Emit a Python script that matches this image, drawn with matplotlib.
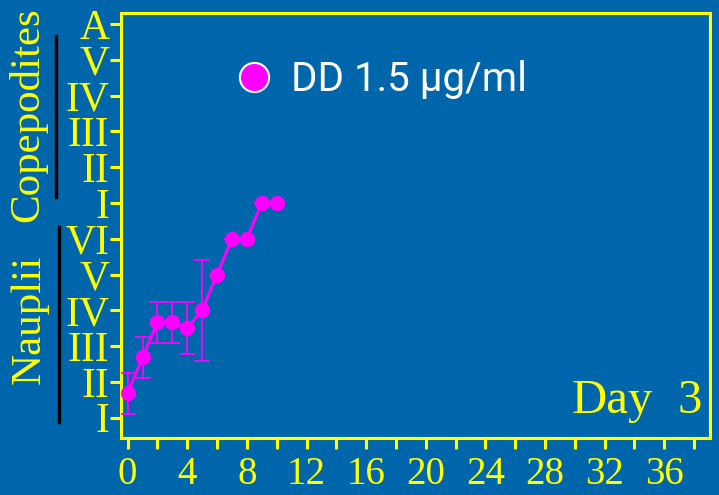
import matplotlib
matplotlib.use("Agg")
import matplotlib.pyplot as plt
from matplotlib.lines import Line2D

# data
days = [0, 1, 2, 3, 4, 5, 6, 7, 8, 9, 10]
stage = [1.68, 2.68, 3.66, 3.66, 3.51, 4.0, 5.0, 6.0, 6.0, 7.0, 7.0]
stage_err = [0.58, 0.56, 0.57, 0.57, 0.72, 1.41, 0, 0, 0, 0, 0]
stage_ticks = list(range(1, 13))
stage_labels = ['I', 'II', 'III', 'IV', 'V', 'VI', 'I', 'II', 'III', 'IV', 'V', 'A']
day_ticks = list(range(0, 39, 2))
day_labels = [str(d) if d % 4 == 0 else '' for d in day_ticks]
legend_label = 'DD 1.5 µg/ml'

bg = '#0066AB'
yellow = '#FFFF00'
magenta = '#FF00FF'

fig = plt.figure(figsize=(7.19, 4.95), dpi=100, facecolor=bg)
ax = fig.add_axes([0.1676, 0.1152, 0.8199, 0.8585], facecolor=bg)

ax.errorbar(days, stage, yerr=stage_err, color=magenta, lw=2.2, marker='o',
            ms=10, mfc=magenta, mec=magenta, ecolor=magenta, elinewidth=1.3,
            capsize=5.5, capthick=1.3, zorder=3)

ax.set_xlim(-0.48, 39.07)
ax.set_ylim(0.43, 12.31)

ax.set_xticks(day_ticks)
ax.set_xticklabels(day_labels)
ax.set_yticks(stage_ticks)
ax.set_yticklabels(stage_labels)

for s in ax.spines.values():
    s.set_color(yellow)
    s.set_linewidth(2.2)

ax.tick_params(axis='both', colors=yellow, width=2.2, length=8, direction='out')
ax.tick_params(axis='x', pad=5)
ax.tick_params(axis='y', pad=0)
for lab in ax.get_xticklabels():
    lab.set_family('Liberation Serif')
    lab.set_fontsize(28)
for lab in ax.get_yticklabels():
    lab.set_family('Liberation Serif')
    lab.set_fontsize(30)

# legend
h = Line2D([], [], marker='o', ls='none', ms=21, mfc=magenta, mec='white', mew=1.5)
leg = ax.legend(handles=[h], labels=[legend_label], loc='center left',
                bbox_to_anchor=(0.124, 0.843), frameon=False, handletextpad=0.33,
                handlelength=1.2, prop={'family': 'Roboto', 'size': 29})
for t in leg.get_texts():
    t.set_color('white')

# "Day 3" label, written as two words to keep the wide gap
ax.text((572 - 120.5) / 589.5, 0.059, 'Day', transform=ax.transAxes, ha='left',
        va='baseline', color=yellow, fontsize=35, family='Liberation Serif')
ax.text((702 - 120.5) / 589.5, 0.059, '3', transform=ax.transAxes, ha='right',
        va='baseline', color=yellow, fontsize=35, family='Liberation Serif')

# stage group labels at the left
fig.text(28 / 719, 1 - 115 / 495, 'Copepodites', rotation=90, ha='center', va='center',
         color=yellow, fontsize=31, family='Liberation Serif')
fig.text(30 / 719, 1 - 319 / 495, 'Nauplii', rotation=90, ha='center', va='center',
         color=yellow, fontsize=31, family='Liberation Serif')
fig.add_artist(Line2D([55.7 / 719, 55.7 / 719], [1 - 36 / 495, 1 - 197 / 495],
                      color='black', lw=2.5, transform=fig.transFigure))
fig.add_artist(Line2D([58.7 / 719, 58.7 / 719], [1 - 227 / 495, 1 - 422 / 495],
                      color='black', lw=2.5, transform=fig.transFigure))

fig.savefig('out.png', dpi=100, facecolor=bg)
